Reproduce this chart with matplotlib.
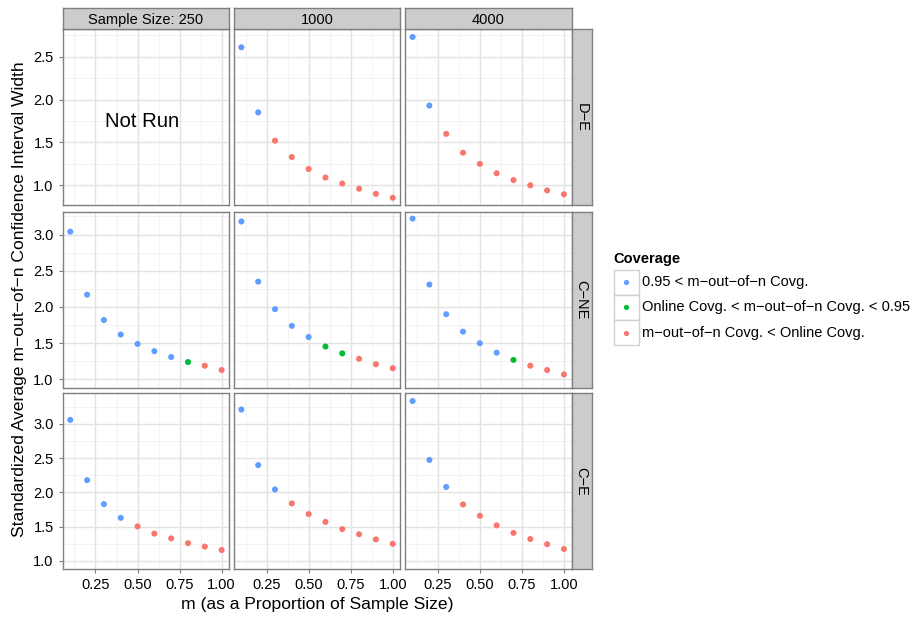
import matplotlib
matplotlib.use("Agg")
import matplotlib.pyplot as plt
from matplotlib.patches import Rectangle
import numpy as np

plt.rcParams['font.family'] = ['Liberation Sans', 'DejaVu Sans']

# ---------------- data ----------------
m_prop = [0.1, 0.2, 0.3, 0.4, 0.5, 0.6, 0.7, 0.8, 0.9, 1.0]
sample_sizes = ["Sample Size: 250", "1000", "4000"]
scenarios = ["D\u2212E", "C\u2212NE", "C\u2212E"]

coverage_labels = ["0.95 < m\u2212out\u2212of\u2212n Covg.",
                   "Online Covg. < m\u2212out\u2212of\u2212n Covg. < 0.95",
                   "m\u2212out\u2212of\u2212n Covg. < Online Covg."]
coverage_colors = ["#619CFF", "#00BA38", "#F8766D"]

# widths (None = not run)
de_250 = None
de_1000 = [2.61, 1.85, 1.52, 1.33, 1.19, 1.09, 1.02, 0.96, 0.90, 0.855]
de_4000 = [2.73, 1.93, 1.60, 1.38, 1.25, 1.14, 1.06, 1.00, 0.94, 0.895]
cne_250 = [3.04, 2.17, 1.82, 1.62, 1.49, 1.39, 1.31, 1.24, 1.19, 1.13]
cne_1000 = [3.18, 2.35, 1.97, 1.74, 1.585, 1.455, 1.36, 1.285, 1.21, 1.155]
cne_4000 = [3.22, 2.31, 1.90, 1.66, 1.50, 1.37, 1.27, 1.19, 1.13, 1.07]
ce_250 = [3.06, 2.18, 1.83, 1.63, 1.505, 1.40, 1.33, 1.26, 1.21, 1.16]
ce_1000 = [3.21, 2.40, 2.045, 1.84, 1.685, 1.57, 1.465, 1.39, 1.315, 1.25]
ce_4000 = [3.335, 2.475, 2.08, 1.825, 1.66, 1.52, 1.41, 1.32, 1.245, 1.175]

# coverage class per point: 0 = blue, 1 = green, 2 = red
cov_de_1000 = [0, 0, 2, 2, 2, 2, 2, 2, 2, 2]
cov_de_4000 = [0, 0, 2, 2, 2, 2, 2, 2, 2, 2]
cov_cne_250 = [0, 0, 0, 0, 0, 0, 0, 1, 2, 2]
cov_cne_1000 = [0, 0, 0, 0, 0, 1, 1, 2, 2, 2]
cov_cne_4000 = [0, 0, 0, 0, 0, 0, 1, 2, 2, 2]
cov_ce_250 = [0, 0, 0, 0, 2, 2, 2, 2, 2, 2]
cov_ce_1000 = [0, 0, 0, 2, 2, 2, 2, 2, 2, 2]
cov_ce_4000 = [0, 0, 0, 2, 2, 2, 2, 2, 2, 2]

panel_values = [[de_250, de_1000, de_4000],
                [cne_250, cne_1000, cne_4000],
                [ce_250, ce_1000, ce_4000]]
panel_cov = [[None, cov_de_1000, cov_de_4000],
             [cov_cne_250, cov_cne_1000, cov_cne_4000],
             [cov_ce_250, cov_ce_1000, cov_ce_4000]]

row_ylims = [(0.77, 2.823), (0.889, 3.318), (0.883, 3.452)]
row_yticks = [[1.0, 1.5, 2.0, 2.5], [1.0, 1.5, 2.0, 2.5, 3.0], [1.0, 1.5, 2.0, 2.5, 3.0]]
xticks = [0.25, 0.50, 0.75, 1.00]
xminor = [0.125, 0.375, 0.625, 0.875]

# ---------------- layout ----------------
W, H = 916, 619
fig = plt.figure(figsize=(W / 100, H / 100), dpi=100)

def px_axes(left, top, width, height):
    return fig.add_axes([left / W, 1 - (top + height) / H, width / W, height / H])

col_left = [62.7, 233.8, 405.0]
col_w = 166.5
row_top = [29.0, 211.5, 393.0]
row_h = 176.0
strip_top, strip_h = 8.0, 21.0
rstrip_left, rstrip_w = 571.5, 20.5

border_col = "#7F7F7F"
strip_fill = "#CCCCCC"
major_grid = "#E3E3E3"
minor_grid = "#F3F3F3"
fs_tick = 10.5
pt_size = 19

for r in range(3):
    ylo, yhi = row_ylims[r]
    yt = row_yticks[r]
    ymin_ticks = [t + 0.25 for t in [yt[0] - 0.5] + yt]
    ymin_ticks = [t for t in ymin_ticks if ylo < t < yhi and t not in yt]
    for c in range(3):
        ax = px_axes(col_left[c], row_top[r], col_w, row_h)
        ax.set_xlim(0.055, 1.045)
        ax.set_ylim(ylo, yhi)
        for t in xminor:
            ax.axvline(t, color=minor_grid, lw=0.7, zorder=0)
        for t in ymin_ticks:
            ax.axhline(t, color=minor_grid, lw=0.7, zorder=0)
        for t in xticks:
            ax.axvline(t, color=major_grid, lw=1.0, zorder=0.5)
        for t in yt:
            ax.axhline(t, color=major_grid, lw=1.0, zorder=0.5)
        vals = panel_values[r][c]
        if vals is None:
            ax.text(0.525, 1.74, "Not Run", fontsize=14.6, ha="center", va="center")
        else:
            cov = panel_cov[r][c]
            cols = [coverage_colors[k] for k in cov]
            ax.scatter(m_prop, vals, s=pt_size, c=cols, linewidths=0, zorder=3)
        for sp in ax.spines.values():
            sp.set_color(border_col)
            sp.set_linewidth(1.0)
        ax.set_xticks(xticks)
        ax.set_yticks(yt)
        ax.tick_params(axis="both", direction="out", length=3, width=0.8,
                       color=border_col, labelsize=fs_tick, pad=3.5)
        if r == 2:
            ax.set_xticklabels(["%.2f" % t for t in xticks])
        else:
            ax.tick_params(axis="x", length=0, labelbottom=False)
        if c == 0:
            ax.set_yticklabels(["%.1f" % t for t in yt])
        else:
            ax.tick_params(axis="y", length=0, labelleft=False)

# top strips
for c in range(3):
    sa = px_axes(col_left[c], strip_top, col_w, strip_h)
    sa.set_xticks([]); sa.set_yticks([])
    sa.set_facecolor(strip_fill)
    for sp in sa.spines.values():
        sp.set_color(border_col); sp.set_linewidth(1.0)
    sa.text(0.5, 0.45, sample_sizes[c], ha="center", va="center", fontsize=fs_tick,
            transform=sa.transAxes)

# right strips
for r in range(3):
    sa = px_axes(rstrip_left, row_top[r], rstrip_w, row_h)
    sa.set_xticks([]); sa.set_yticks([])
    sa.set_facecolor(strip_fill)
    for sp in sa.spines.values():
        sp.set_color(border_col); sp.set_linewidth(1.0)
    sa.text(0.5, 0.5, scenarios[r], ha="center", va="center", fontsize=fs_tick,
            rotation=-90, transform=sa.transAxes)

# axis titles
fig.text(317 / W, 1 - 604 / H, "m (as a Proportion of Sample Size)",
         ha="center", va="center", fontsize=12.6)
fig.text(20 / W, 1 - 299 / H,
         "Standardized Average m\u2212out\u2212of\u2212n Confidence Interval Width",
         ha="center", va="center", fontsize=12.6, rotation=90)

# legend (drawn in a figure-level axes in pixel units)
lg = px_axes(600, 240, 316, 120)
lg.set_xlim(600, 916)
lg.set_ylim(360, 240)
lg.axis("off")
lg.text(613.5, 258.5, "Coverage", fontsize=10.5, fontweight="bold", ha="left", va="center")
key_top = 269.5
key_h = 25.3
for i, (lab, col) in enumerate(zip(coverage_labels, coverage_colors)):
    y0 = key_top + i * key_h
    lg.add_patch(Rectangle((613.5, y0), 25.5, key_h, facecolor="white",
                           edgecolor="#D0D0D0", lw=1.0))
    lg.scatter([626.2], [y0 + key_h / 2], s=14, c=col, linewidths=0, zorder=3)
    lg.text(642.5, y0 + key_h / 2, lab, fontsize=10.5, ha="left", va="center")

fig.savefig("out.png", dpi=100)
